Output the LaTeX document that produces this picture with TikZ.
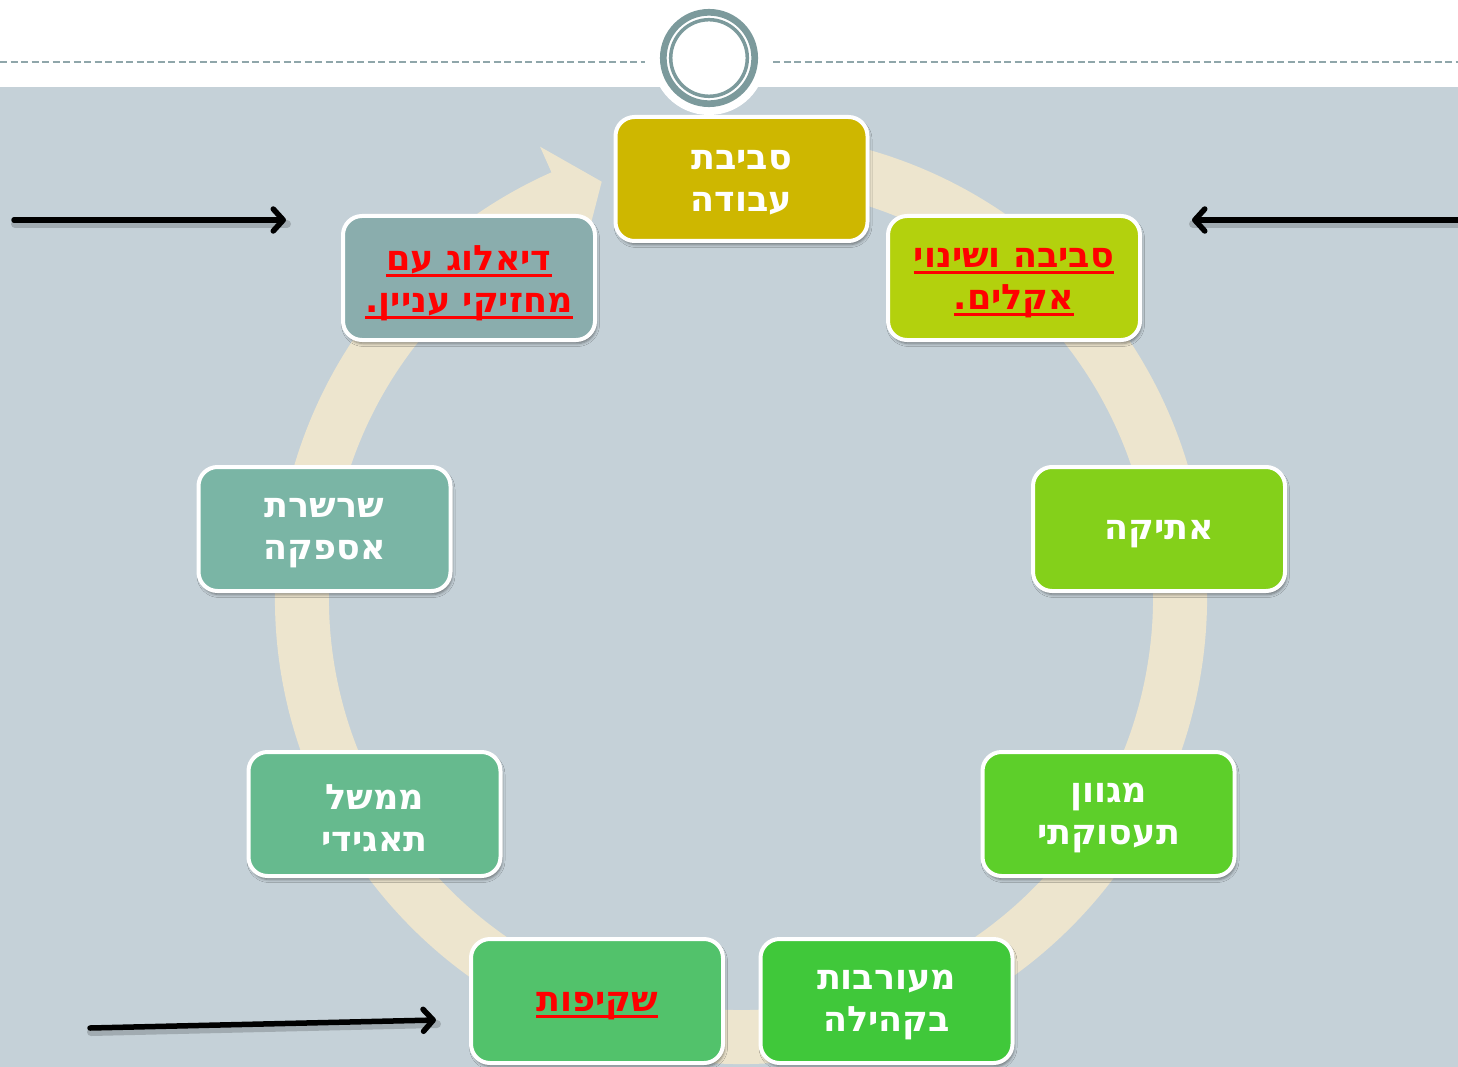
\documentclass[tikz,border=0pt]{standalone}
\usepackage{fontspec}
\newfontfamily\heb[Script=Hebrew]{DejaVu Sans}
\TeXXeTstate=1
\usetikzlibrary{arrows.meta,shadows.blur,calc}
\definecolor{bg}{HTML}{C5D1D8}
\definecolor{ringc}{HTML}{EDE5CE}
\definecolor{orn}{HTML}{7C9A9C}
\definecolor{dashc}{HTML}{8FA6AA}
\definecolor{cA}{HTML}{CEB700}
\definecolor{cB}{HTML}{B3D10D}
\definecolor{cC}{HTML}{84D01A}
\definecolor{cD}{HTML}{5DCF2A}
\definecolor{cE}{HTML}{40C83A}
\definecolor{cF}{HTML}{52C26B}
\definecolor{cG}{HTML}{66BA8E}
\definecolor{cH}{HTML}{7AB5A5}
\definecolor{cI}{HTML}{8AADAD}
\newcommand\rl[1]{\beginR#1\endR}
\newcommand\rlu[1]{\setbox0=\hbox{\beginR#1\endR}\rlap{\rule[-7pt]{\wd0}{3.4pt}}\box0}
\begin{document}
\begin{tikzpicture}[x=1pt,y=-1pt,
  box/.style={draw=white, line width=4pt, rounded corners=19pt,
    minimum width=252pt, minimum height=124pt, inner sep=0pt,
    blur shadow={shadow xshift=1.5pt, shadow yshift=-3.5pt, shadow blur radius=3pt, shadow opacity=45}},
  boxtext/.style={inner sep=0pt, text=white, align=center,
    font=\heb\bfseries\fontsize{35}{42}\selectfont},
  redtext/.style={text=red},
  blackarrow/.style={black, line width=5.5pt, line cap=round,
    -{Straight Barb[length=10pt,width=22pt,line cap=round,line join=round]}},
  arrowshade/.style={black, opacity=0.18, line width=8pt, line cap=round,
    transform canvas={xshift=1pt,yshift=-4pt}},
  ring/.style={ringc, line width=54pt},
  dashline/.style={dashc, line width=1.3pt, dash pattern=on 7pt off 3.5pt},
]
\useasboundingbox (0,0) rectangle (1458,1067);
\fill[white] (0,0) rectangle (1458,1067);
\fill[bg] (0,87) rectangle (1458,1067);
% header ornament
\draw[dashline] (0,62) -- (645,62);
\draw[dashline] (773,62) -- (1458,62);
\fill[white] (709,58) circle[radius=57];
\draw[orn, line width=6.7pt] (709,58) circle[radius=45.7];
\draw[orn, line width=3.5pt] (709,58) circle[radius=38.3];
% ring arrow
\coordinate (rc) at (741,598);
\draw[ring] ($(rc)+(-80:439)$) arc[start angle=-80, end angle=246.4, radius=439];
\fill[ringc] ($(rc)+(246.0:494)$) -- ($(rc)+(251.5:439)$) -- ($(rc)+(246.0:384)$) -- cycle;
% boxes
\node[box, fill=cA] (n1) at (741.5,179) {};
\node[box, fill=cB] (n2) at (1014,278) {};
\node[box, fill=cC] (n3) at (1159,529) {};
\node[box, fill=cD] (n4) at (1108.5,814) {};
\node[box, fill=cE] (n5) at (886.5,1001) {};
\node[box, fill=cF] (n6) at (597,1001) {};
\node[box, fill=cG] (n7) at (374.5,814) {};
\node[box, fill=cH] (n8) at (324.5,529) {};
\node[box, fill=cI] (n9) at (469,278) {};
% box texts
\node[boxtext] (t1) at ([yshift=-4pt]n1.center) {\rl{סביבת}\\\rl{עבודה}};
\node[boxtext, redtext] (t2) at ([yshift=-5pt]n2.center) {\rlu{סביבה ושינוי}\\\rlu{אקלים.}};
\node[boxtext] (t3) at ([yshift=-5pt]n3.center) {\rl{אתיקה}};
\node[boxtext] (t4) at ([yshift=-4pt]n4.center) {\rl{מגוון}\\\rl{תעסוקתי}};
\node[boxtext] (t5) at ([yshift=-4pt]n5.center) {\rl{מעורבות}\\\rl{בקהילה}};
\node[boxtext, redtext] (t6) at ([yshift=-5pt]n6.center) {\rlu{שקיפות}};
\node[boxtext] (t7) at ([yshift=-4pt]n7.center) {\rl{ממשל}\\\rl{תאגידי}};
\node[boxtext] (t8) at ([yshift=-4pt]n8.center) {\rl{שרשרת}\\\rl{אספקה}};
\node[boxtext, redtext] (t9) at ([yshift=-5pt]n9.center) {\rlu{דיאלוג עם}\\\rlu{מחזיקי עניין.}};
% black arrows
\coordinate (a1s) at (14,220); \coordinate (a1e) at (286,220);
\coordinate (a2s) at (1470,220); \coordinate (a2e) at (1192,220);
\coordinate (a3s) at (90,1028); \coordinate (a3e) at (436,1020);
\draw[arrowshade] (a1s) -- (a1e);
\draw[arrowshade] (a2s) -- (a2e);
\draw[arrowshade] (a3s) -- (a3e);
\draw[blackarrow] (a1s) -- (a1e);
\draw[blackarrow] (a2s) -- (a2e);
\draw[blackarrow] (a3s) -- (a3e);
\end{tikzpicture}
\end{document}
